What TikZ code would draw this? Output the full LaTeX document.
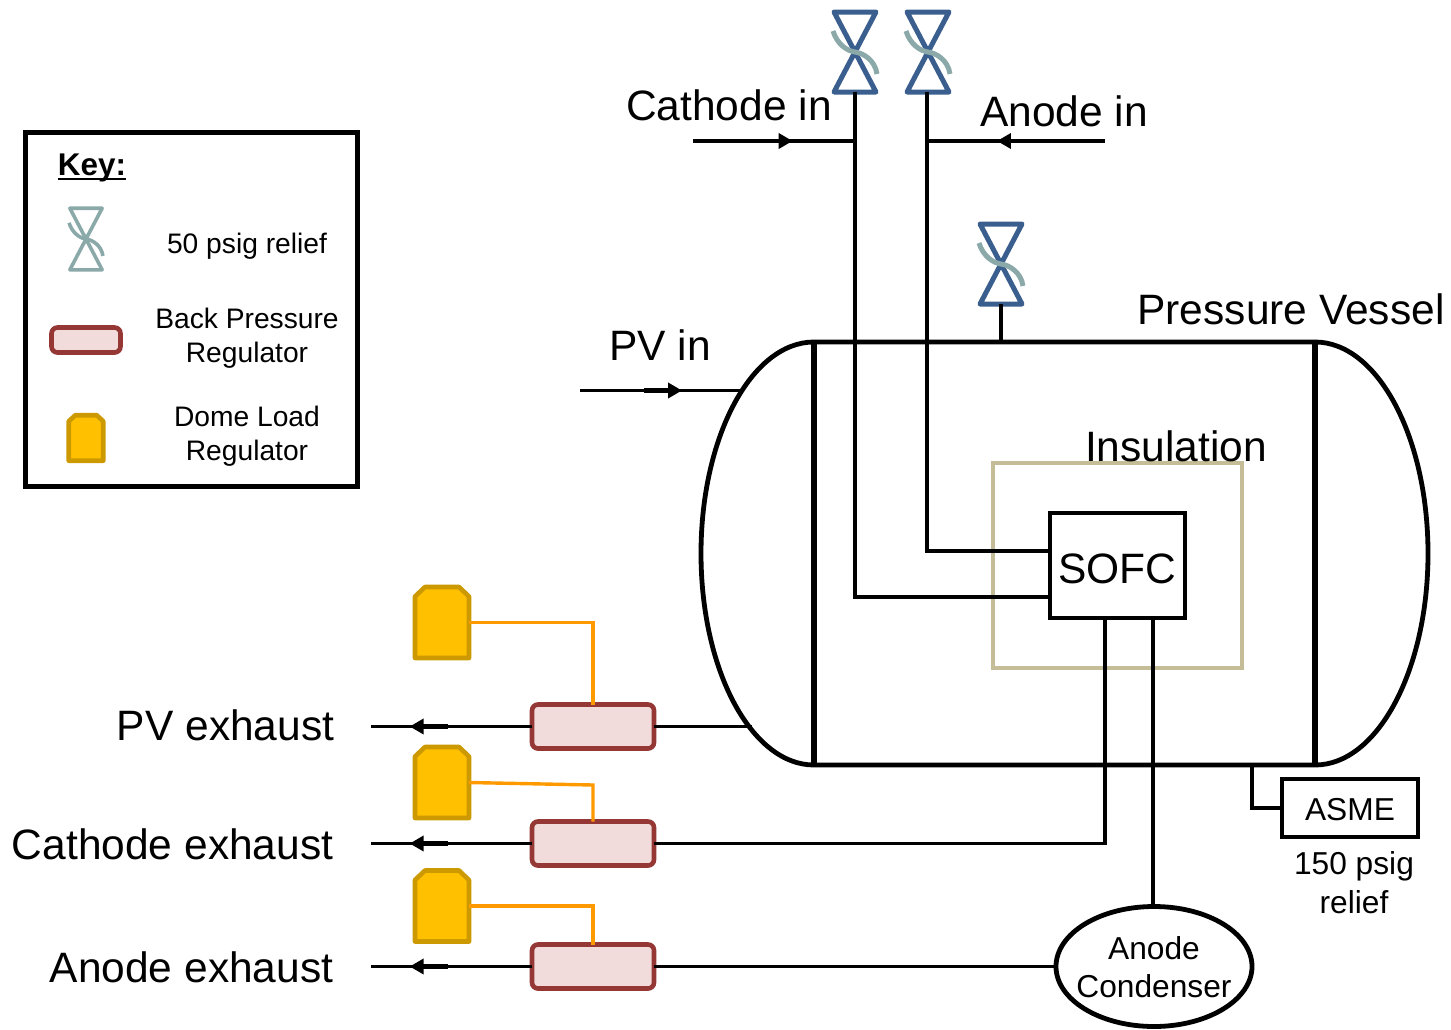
\documentclass[tikz,border=0pt]{standalone}
\usepackage{fontspec}
\setmainfont{Liberation Sans}
\usetikzlibrary{arrows.meta,decorations.markings,shapes.geometric}
\definecolor{valveblue}{HTML}{3A5F8F}
\definecolor{valvegrey}{HTML}{8CA9A9}
\definecolor{bprline}{HTML}{953735}
\definecolor{bprfill}{HTML}{F2DCDB}
\definecolor{domefill}{HTML}{FFC000}
\definecolor{domeline}{HTML}{CC9A00}
\definecolor{pilot}{HTML}{FF9900}
\definecolor{insul}{HTML}{C4BD97}
\tikzset{
  x=1pt,y=-1pt,
  pipe/.style={line width=3.8pt,black},
  vesselline/.style={line width=4.8pt,black},
  midarrow/.style={postaction={decorate},decoration={markings,
     mark=at position #1 with {\draw[line width=4.6pt] (-38pt,0pt) -- (-6pt,0pt); \arrow{Triangle[length=14pt,width=15pt]}}}},
  bpr/.style={draw=bprline,fill=bprfill,line width=4.6pt,rounded corners=6pt,
     minimum width=#1,minimum height=44pt,inner sep=0pt,outer sep=0pt},
  pilotline/.style={line width=3.4pt,pilot},
  big/.style={font=\fontsize{42.5}{48}\selectfont,anchor=base,inner sep=0pt},
  mid/.style={font=\fontsize{31.7}{39}\selectfont,align=center,inner sep=0pt},
  small/.style={font=\fontsize{28.2}{34}\selectfont,align=center,inner sep=0pt},
  pics/valve/.style 2 args={code={
    \draw[#1,line width=#2,line join=round] (-21,-40) -- (21,-40) -- (-21,40) -- (21,40) -- cycle;
    \draw[valvegrey,line width=#2] (-22,-21) .. controls (-18,-8) and (-8,-1) .. (0,0) .. controls (8,1) and (20,8) .. (22,22);
    \coordinate (-b) at (0,40);
  }},
  pics/domereg/.style={code={
    \draw[draw=domeline,fill=domefill,line width=4.6pt,line join=round]
      (-27,35.5) -- (-27,-26) -- (-17,-35.5) -- (17,-35.5) -- (27,-26) -- (27,35.5) -- cycle;
    \coordinate (-e) at (27,0);
  }}
}
\begin{document}
\begin{tikzpicture}
\useasboundingbox (0,0) rectangle (1451,1029);
% key
\node[draw,line width=5pt,minimum width=332pt,minimum height=354pt,inner sep=0pt] (keybox) at (191,309) {};
\node[font=\fontsize{31.4}{36}\selectfont\bfseries,anchor=base,inner sep=0pt] (keytitle) at (92,175) {Key:};
\draw[line width=2.4pt] (keytitle.base west) ++(0,4) -- ++(68,0);
\pic (keyvalve) at (86,239) [scale=.77] {valve={valvegrey}{3.6pt}};
\node[small] (keyrelief) at (247,246) {50 psig relief};
\node[bpr=69pt,minimum height=25pt] (keybpr) at (86,340) {};
\node[small] (keybprtext) at (247,338) {Back Pressure\\Regulator};
\pic (keydome1) at (86,438) [scale=.64] {domereg};
\node[small] (keydometext) at (247,436) {Dome Load\\Regulator};
% equipment nodes
\node[draw=insul,line width=4pt,minimum width=249pt,minimum height=205pt,inner sep=0pt,outer sep=0pt] (insulation) at (1117.5,565.5) {};
\node[draw,line width=4.8pt,minimum width=135pt,minimum height=105pt,inner sep=0pt,outer sep=0pt] (sofc) at (1117.5,565.5) {};
\node[font=\fontsize{42.5}{48}\selectfont,inner sep=0pt] (sofctext) at (1117.5,569) {SOFC};
\node[draw,line width=4.8pt,minimum width=136pt,minimum height=58pt,inner sep=0pt,outer sep=0pt] (asme) at (1350,808) {};
\node[font=\fontsize{31.7}{38}\selectfont,inner sep=0pt] (asmetext) at (1350,809.5) {ASME};
\node[draw,ellipse,line width=4.8pt,fill=white,minimum width=196pt,minimum height=120pt,inner sep=0pt,outer sep=0pt] (cond) at (1154,966.5) {};
\node[align=center,inner sep=0pt,font=\fontsize{31.7}{38.5}\selectfont] (condtext) at (1154,967) {Anode\\Condenser};
\node[bpr=122pt] (b1) at (593,726.5) {};
\node[bpr=122pt] (b2) at (593,843.5) {};
\node[bpr=122pt] (b3) at (593,966.5) {};
\pic (d1) at (442,622.5) {domereg};
\pic (d2) at (442,782.5) {domereg};
\pic (d3) at (442,906) {domereg};
% valves
\pic (v1) at (855,52) {valve={valveblue}{5pt}};
\pic (v2) at (928,52) {valve={valveblue}{5pt}};
\pic (v3) at (1001,264) {valve={valveblue}{5pt}};
% vessel
\coordinate (vtl) at (814,342);
\coordinate (vtr) at (1315,342);
\coordinate (vbl) at (814,765);
\coordinate (vbr) at (1315,765);
\draw[vesselline] (vtl) -- (vtr) .. controls (1377.4,342) and (1428,436.7) .. (1428,553.5) .. controls (1428,670.3) and (1377.4,765) .. (vbr) -- (vbl) .. controls (751.6,765) and (701,670.3) .. (701,553.5) .. controls (701,436.7) and (751.6,342) .. (vtl) -- cycle;
\draw[line width=6pt] (vtl) -- (vbl);
\draw[line width=6pt] (vtr) -- (vbr);
% free ends
\coordinate (cathin) at (693,141);
\coordinate (cathj) at (855,141);
\coordinate (anin) at (1105,141);
\coordinate (anj) at (927,141);
\coordinate (pvin) at (580,390.5);
\coordinate (pvinend) at (742,390.5);
\coordinate (pvex) at (371,726.5);
\coordinate (pvexend) at (752,726.5);
\coordinate (cathex) at (371,843.5);
\coordinate (anex) at (371,966.5);
\coordinate (v3top) at (1001,342);
\coordinate (asmetap) at (1252,765);
\coordinate (sofcc) at (1105,618);
\coordinate (sofca) at (1153,618);
\coordinate (d2mid) at (593,785);
% connectors
\draw[pipe,midarrow=.615] (cathin) -- (cathj);
\draw[pipe,midarrow=.607] (anin) -- (anj);
\draw[pipe,midarrow=.63] (pvin) -- (pvinend);
\draw[pipe] (v1-b) -- (855,597) -- (sofc.west |- 855,597);
\draw[pipe] (v2-b -| anj) -- (927,551) -- (sofc.west |- 927,551);
\draw[pipe] (v3-b) -- (v3top);
\draw[pipe,midarrow=.76] (b1.west) -- (pvex);
\draw[pipe] (b1.east) -- (pvexend);
\draw[pipe,midarrow=.76] (b2.west) -- (cathex);
\draw[pipe] (b2.east) -| (sofcc);
\draw[pipe,midarrow=.76] (b3.west) -- (anex);
\draw[pipe] (b3.east) -- (cond.west);
\draw[pipe] (sofca) -- (cond.north -| sofca);
\draw[pipe] (asmetap) |- (asme.west);
\draw[pilotline] (d1-e) -| (b1.north);
\draw[pilotline] (d2-e) -- (d2mid) -- (b2.north);
\draw[pilotline] (d3-e) -| (b3.north);
% labels
\node[big] (lcath) at (729,120) {Cathode in};
\node[big] (lan) at (1064,126) {Anode in};
\node[big] (lpv) at (660,360) {PV in};
\node[big] (lves) at (1291,324) {Pressure Vessel};
\node[big] (lins) at (1176,461) {Insulation};
\node[big,anchor=base east] (lpve) at (334.5,740) {PV exhaust};
\node[big,anchor=base east] (lce) at (333.5,859) {Cathode exhaust};
\node[big,anchor=base east] (lae) at (333.5,982) {Anode exhaust};
\node[mid] (lrel) at (1354,883) {150 psig\\relief};
\end{tikzpicture}
\end{document}
